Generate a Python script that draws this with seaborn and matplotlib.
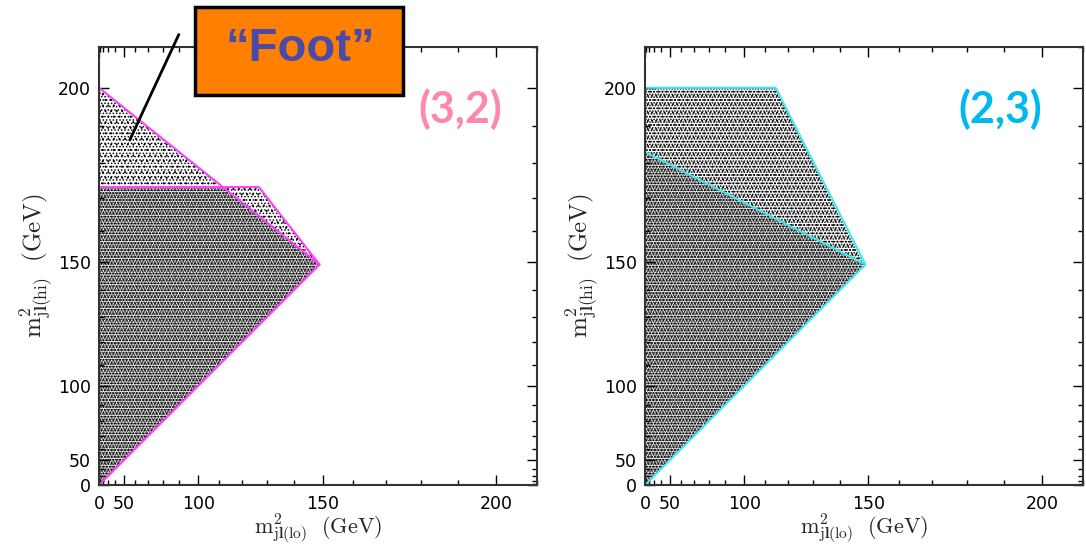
import numpy as np
import pandas as pd
import seaborn as sns
import matplotlib.pyplot as plt
from matplotlib.patches import Rectangle

# everything is in m^2 (GeV^2); tick labels show m
# corners of the populated regions
vx, vy = 22200, 22200          # common vertex (~149, 149)

# (3,2) panel
left_dense_x = [0, vx, 12470, 0]
left_dense_y = [0, vy, 30000, 30000]
left_foot_x = [0, 12470, 0]
left_foot_y = [30000, 30000, 40000]
left_sliver_x = [12470, 16100, vx]
left_sliver_y = [30000, 30000, vy]
left_edge_x = [0, vx, 0]
left_edge_y = [40000, vy, 0]
left_step_x = [0, 16100, vx]
left_step_y = [30000, 30000, vy]

# (2,3) panel
right_low_x = [0, vx, 0]
right_low_y = [0, vy, 33540]
right_up_x = [0, vx, 13160, 0]
right_up_y = [33540, vy, 40000, 40000]
right_edge_x = [0, 13160, vx, 0]
right_edge_y = [40000, 40000, vy, 0]
right_mid_x = [0, vx]
right_mid_y = [33540, vy]

major_m = [0, 50, 100, 150, 200]
minor_m = [m for m in range(10, 220, 10) if m not in major_m]
lim = 210 ** 2

sns.set_theme(style="ticks")
plt.rcParams['font.family'] = ['DejaVu Sans']
plt.rcParams['mathtext.fontset'] = 'cm'
plt.rcParams['hatch.color'] = 'black'

fig = plt.figure(figsize=(10.86, 5.45), dpi=100)
ax1 = fig.add_axes([0.0912, 0.110, 0.4033, 0.8037])
ax2 = fig.add_axes([0.5939, 0.110, 0.4033, 0.8037])


def fill_region(ax, xs, ys, hatches, hlw):
    # stack a few dot hatches so the stipple looks less regular
    for h in hatches:
        p = ax.fill(xs, ys, facecolor='none', edgecolor='black', lw=0, hatch=h)[0]
        if hasattr(p, 'set_hatch_linewidth'):
            p.set_hatch_linewidth(hlw)


def edge(ax, xs, ys, color):
    df = pd.DataFrame({'x': xs, 'y': ys})
    sns.lineplot(data=df, x='x', y='y', sort=False, estimator=None,
                 color=color, lw=1.5, ax=ax)


fill_region(ax1, left_dense_x, left_dense_y, ['.....', '.......'], 0.9)
fill_region(ax1, left_foot_x, left_foot_y, ['...', '.....'], 0.7)
fill_region(ax1, left_sliver_x, left_sliver_y, ['...', '.....'], 0.7)
edge(ax1, left_edge_x, left_edge_y, '#ff40ff')
edge(ax1, left_step_x, left_step_y, '#ff40ff')

fill_region(ax2, right_low_x, right_low_y, ['.....', '.......'], 0.9)
fill_region(ax2, right_up_x, right_up_y, ['....', '......'], 0.8)
edge(ax2, right_edge_x, right_edge_y, '#40e8f0')
edge(ax2, right_mid_x, right_mid_y, '#40e8f0')

xlab = r'$\mathrm{m}^{2}_{\mathrm{j}\mathbf{l}\mathrm{(lo)}}\ \ \mathrm{(GeV)}$'
ylab = r'$\mathrm{m}^{2}_{\mathrm{j}\mathbf{l}\mathrm{(hi)}}\ \ \mathrm{(GeV)}$'

for ax in (ax1, ax2):
    ax.set_xlim(0, lim)
    ax.set_ylim(0, lim)
    ax.set_xticks([m ** 2 for m in major_m])
    ax.set_yticks([m ** 2 for m in major_m])
    ax.set_xticks([m ** 2 for m in minor_m], minor=True)
    ax.set_yticks([m ** 2 for m in minor_m], minor=True)
    ax.set_xticklabels([str(m) for m in major_m])
    ax.set_yticklabels([str(m) for m in major_m])
    ax.tick_params(which='both', direction='in', top=True, right=True,
                   colors='black', width=1.0, labelsize=12.5)
    ax.tick_params(which='major', length=7)
    ax.tick_params(which='minor', length=3.5)
    ax.tick_params(axis='x', pad=7)
    ax.tick_params(axis='y', pad=6)
    for s in ax.spines.values():
        s.set_linewidth(1.5)
        s.set_color('#333333')
    ax.set_xlabel(xlab, fontsize=16, labelpad=-1)
    ax.set_ylabel(ylab, fontsize=18, labelpad=2)

# pointer to the foot region
ax1.annotate('', xy=(2970, 34480), xycoords='data',
             xytext=(180, 545 - 32), textcoords='figure pixels',
             arrowprops=dict(arrowstyle='-', lw=2, color='black'))

box = Rectangle((195 / 1086, 1 - 95 / 545), 208 / 1086, 88 / 545,
                transform=fig.transFigure, facecolor='#ff7f00',
                edgecolor='black', lw=2.5, zorder=5)
fig.add_artist(box)
fig.text(300 / 1086, 1 - 49 / 545, '\u201cFoot\u201d', ha='center', va='center',
         fontsize=34, fontweight='bold', color='#4a4aaa', zorder=6,
         family=['Liberation Sans', 'DejaVu Sans'])

fig.text(460 / 1086, 1 - 109 / 545, '(3,2)', ha='center', va='center',
         fontsize=31, fontweight='bold', color='#ff88aa',
         family=['Lato', 'DejaVu Sans'])
fig.text(1000 / 1086, 1 - 109 / 545, '(2,3)', ha='center', va='center',
         fontsize=31, fontweight='bold', color='#00b8f0',
         family=['Lato', 'DejaVu Sans'])

fig.savefig('out.png', dpi=100)
